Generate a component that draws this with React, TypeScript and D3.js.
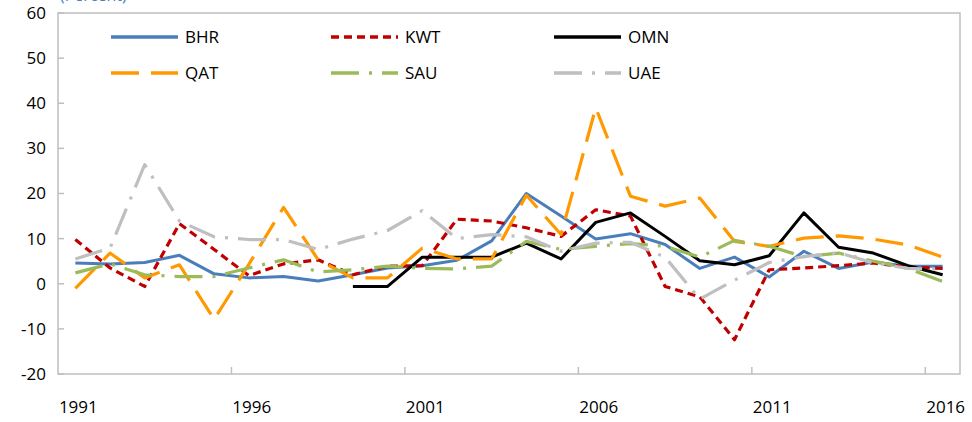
import React from "react";
import * as d3 from "d3";

const years = d3.range(1991, 2017).map(String);
const tickYears = ["1991", "1996", "2001", "2006", "2011", "2016"];
const yTicks = [60, 50, 40, 30, 20, 10, 0, -10, -20];

const BHR = [4.6, 4.4, 4.7, 6.3, 2.2, 1.3, 1.6, 0.6, 2.0, 3.5, 4.0, 5.2, 9.5, 20.0, 15.0, 9.9, 11.1, 8.7, 3.4, 5.9, 1.5, 7.2, 3.4, 4.8, 3.9, 3.9];
const KWT = [9.8, 3.5, -0.6, 13.3, 7.6, 1.8, 4.4, 5.3, 2.0, 3.9, 4.0, 14.3, 13.9, 12.4, 10.5, 16.4, 15.0, -0.6, -2.9, -12.4, 3.1, 3.5, 4.0, 4.6, 3.7, 3.4];
const OMN: (number | null)[] = [null, null, null, null, null, null, null, null, -0.6, -0.6, 5.9, 5.9, 5.9, 9.0, 5.5, 13.6, 15.7, 10.5, 5.1, 4.2, 6.2, 15.7, 8.1, 6.8, 4.0, 2.0];
const QAT = [-1.0, 6.8, 1.3, 4.2, -7.9, 4.3, 16.9, 5.3, 1.3, 1.3, 7.9, 5.5, 5.5, 19.6, 10.9, 39.0, 19.4, 17.2, 19.0, 9.4, 8.3, 10.1, 10.6, 9.9, 8.6, 5.9];
const SAU = [2.4, 4.4, 2.0, 1.6, 1.6, 3.5, 5.3, 2.6, 3.1, 3.9, 3.4, 3.3, 3.9, 9.4, 7.6, 8.3, 8.9, 8.3, 5.9, 9.6, 8.3, 6.0, 6.8, 5.0, 3.4, 0.5];
const UAE = [5.5, 7.9, 26.4, 13.9, 10.4, 9.8, 9.8, 7.6, 9.9, 11.8, 16.2, 10.0, 10.9, 10.4, 7.2, 9.0, 9.2, 5.9, -3.4, 0.8, 4.7, 6.0, 6.9, 4.6, 3.4, 3.2];

const series = [
  { name: "BHR", values: BHR as (number | null)[], color: "#4A7EBB", dash: "", width: 3 },
  { name: "KWT", values: KWT as (number | null)[], color: "#C00000", dash: "8,5", width: 3.2 },
  { name: "OMN", values: OMN, color: "#000000", dash: "", width: 3 },
  { name: "QAT", values: QAT as (number | null)[], color: "#FF9900", dash: "28,12", width: 3.2 },
  { name: "SAU", values: SAU as (number | null)[], color: "#9BBB59", dash: "28,10,3,10", width: 3.2 },
  { name: "UAE", values: UAE as (number | null)[], color: "#BFBFBF", dash: "28,10,3,10", width: 3.2 },
];

const W = 972;
const H = 422;
const L = 58, R = 960, T = 13, B = 374;
const FONT = "'Open Sans', 'Noto Sans', sans-serif";

export default function App() {
  const x = d3.scaleBand<string>().domain(years).range([L, R]);
  const y = d3.scaleLinear().domain([-20, 60]).range([B, T]);
  const cx = (yr: string) => (x(yr) as number) + x.bandwidth() / 2;

  const line = d3
    .line<number | null>()
    .defined((d) => d !== null)
    .x((_, i) => cx(years[i]))
    .y((d) => y(d as number));

  const legendRows = [
    { y: 37, items: [0, 1, 2] },
    { y: 73, items: [3, 4, 5] },
  ];
  const legendX = [111, 331, 554];

  return (
    <svg width={W} height={H} style={{ position: "absolute", left: 0, top: 0, background: "#fff" }}>
      <text x={60} y={1} fontFamily={FONT} fontSize={16} fill="#4A7EBB">(Percent)</text>
      <rect x={L} y={T} width={R - L} height={B - T} fill="none" stroke="#BFBFBF" strokeWidth={1.5} />
      {yTicks.map((t) => (
        <g key={t}>
          <line x1={L} x2={L + 6} y1={y(t)} y2={y(t)} stroke="#BFBFBF" strokeWidth={1.5} />
          <text x={46} y={y(t)} dy="0.35em" textAnchor="end" fontFamily={FONT} fontSize={17} fill="#000">
            {t}
          </text>
        </g>
      ))}
      {years.map((yr, i) =>
        i > 0 && i % 5 === 0 ? (
          <line key={yr} x1={x(yr) as number} x2={x(yr) as number} y1={B} y2={B - 7} stroke="#BFBFBF" strokeWidth={1.5} />
        ) : null
      )}
      {tickYears.map((yr) => (
        <text key={yr} x={cx(yr) + 3} y={413} textAnchor="middle" fontFamily={FONT} fontSize={17} fill="#000">
          {yr}
        </text>
      ))}
      {series.map((s) => (
        <path
          key={s.name}
          d={line(s.values) || ""}
          fill="none"
          stroke={s.color}
          strokeWidth={s.width}
          strokeDasharray={s.dash || undefined}
          strokeLinejoin="round"
        />
      ))}
      {legendRows.map((row) =>
        row.items.map((idx, j) => {
          const s = series[idx];
          const lx = legendX[j];
          return (
            <g key={s.name}>
              <line x1={lx} x2={lx + 67} y1={row.y} y2={row.y} stroke={s.color} strokeWidth={s.width + 0.5} strokeDasharray={s.dash || undefined} />
              <text x={lx + 74} y={row.y} dy="0.35em" fontFamily={FONT} fontSize={17} fill="#000">
                {s.name}
              </text>
            </g>
          );
        })
      )}
    </svg>
  );
}
